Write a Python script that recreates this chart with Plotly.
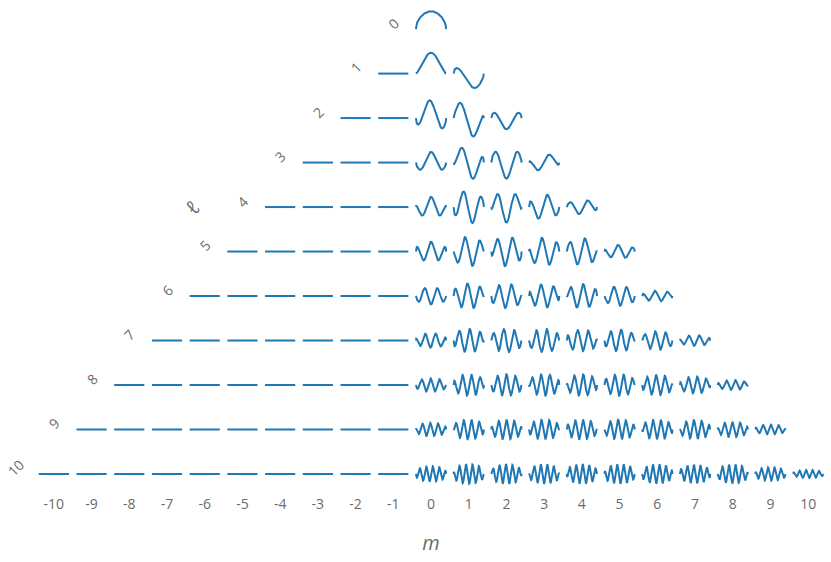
import numpy as np
import plotly.graph_objects as go

# rows (ell) and columns (m)
ells = list(range(11))
m_ticks = list(range(-10, 11))
m_tick_labels = [str(m) for m in m_ticks]

# half-cycles of the wave drawn in each row
half_cycles = [0, 1, 2, 2.5, 3.3, 4.0, 4.8, 5.8, 6.8, 7.8, 9.3]
# how sharply each row's waves rise from zero at the cell edges
edge_power = [0.5, 0.5, 0.45, 0.4, 0.35, 0.3, 0.3, 0.3, 0.3, 0.3, 0.3]

# phase (in units of pi) of each m >= 0 cell, per row
phases = [
    [0.0],
    [-0.5, 0.2],
    [-0.9, -0.34, 0.0],
    [0.75, -0.625, -0.25, 0.3],
    [0.35, 0.94, -0.65, 0.0, -0.32],
    [0.0, 0.5, -0.8, 0.3, -0.4, 0.2],
    [0.6, -0.2, 0.8, 0.1, -0.6, 0.5, 0.0],
    [0.2, 0.9, -0.4, 0.6, -0.1, 0.8, -0.5, 0.3],
    [0.7, 0.0, 0.6, -0.7, 0.3, -0.3, 0.9, 0.1, 0.0],
    [0.3, -0.6, 0.1, 0.8, -0.2, 0.5, -0.8, 0.4, 0.2, 0.0],
    [0.8, 0.2, -0.5, 0.4, -0.9, 0.1, 0.7, -0.3, 0.5, 0.1, 0.0],
]

# amplitude (fraction of the row spacing) of each m >= 0 cell, per row
amps = [
    [0.40],
    [0.47, 0.38],
    [0.40, 0.44, 0.25],
    [0.24, 0.38, 0.36, 0.19],
    [0.23, 0.37, 0.35, 0.28, 0.16],
    [0.22, 0.33, 0.33, 0.31, 0.30, 0.15],
    [0.19, 0.28, 0.27, 0.26, 0.27, 0.22, 0.12],
    [0.16, 0.26, 0.26, 0.26, 0.24, 0.24, 0.21, 0.12],
    [0.15, 0.24, 0.24, 0.24, 0.24, 0.24, 0.23, 0.19, 0.11],
    [0.15, 0.22, 0.22, 0.22, 0.22, 0.22, 0.22, 0.21, 0.17, 0.11],
    [0.17, 0.22, 0.22, 0.22, 0.22, 0.22, 0.22, 0.21, 0.21, 0.15, 0.09],
]

HALF_W = 0.4
X_MIN, X_MAX = -10.5, 10.5
Y_MIN, Y_MAX = -10.45, 0.474
t = np.linspace(0, 1, 160)

xs, ys = [], []
for l in ells:
    # flat segments for negative m
    for m in range(-l, 0):
        xs += [m - HALF_W, m + HALF_W, None]
        ys += [-l, -l, None]
    # waves for m >= 0
    for m in range(0, l + 1):
        k = half_cycles[l]
        ph = phases[l][m]
        a = amps[l][m]
        env = np.clip(np.sin(np.pi * t), 0, None) ** edge_power[l]
        f = env * np.cos(np.pi * k * t + np.pi * ph)
        xs += list(m - HALF_W + 2 * HALF_W * t) + [None]
        ys += list(-l + a * f) + [None]

fig = go.Figure()
fig.add_trace(go.Scatter(x=xs, y=ys, mode="lines",
                         line=dict(color="#1f77b4", width=2),
                         hoverinfo="skip", showlegend=False,
                         cliponaxis=False))

grey = "#6b6b6b"
for l in ells:
    fig.add_annotation(x=(-l - 1 - X_MIN) / (X_MAX - X_MIN), xref="paper",
                       y=-l, yref="y", text=str(l), showarrow=False,
                       xanchor="center", yanchor="middle",
                       textangle=-45, yshift=6,
                       font=dict(size=14, color=grey))
fig.add_annotation(x=(-6.34 - X_MIN) / (X_MAX - X_MIN), xref="paper",
                   y=-4, yref="y", text="ℓ", showarrow=False, textangle=-45,
                   xanchor="center", yanchor="middle",
                   font=dict(size=20, color=grey))

fig.update_layout(
    width=831, height=562,
    margin=dict(l=35, r=4, t=8, b=68, pad=0, autoexpand=False),
    plot_bgcolor="white", paper_bgcolor="white",
    font=dict(family="Open Sans, DejaVu Sans, sans-serif", color=grey),
    hovermode=False,
    xaxis=dict(range=[X_MIN, X_MAX], tickmode="array", tickvals=m_ticks,
               ticktext=m_tick_labels, showgrid=False, zeroline=False,
               showline=False, ticks="", automargin=False,
               tickfont=dict(size=14, color=grey),
               title=dict(text="<i>m</i>", font=dict(size=20, color=grey),
                          standoff=23)),
    yaxis=dict(range=[Y_MIN, Y_MAX], visible=False, automargin=False),
)

fig.write_html("out.html",
               config={"displayModeBar": False},
               post_script="document.body.style.margin='0';"
                           "document.body.style.padding='0';")
